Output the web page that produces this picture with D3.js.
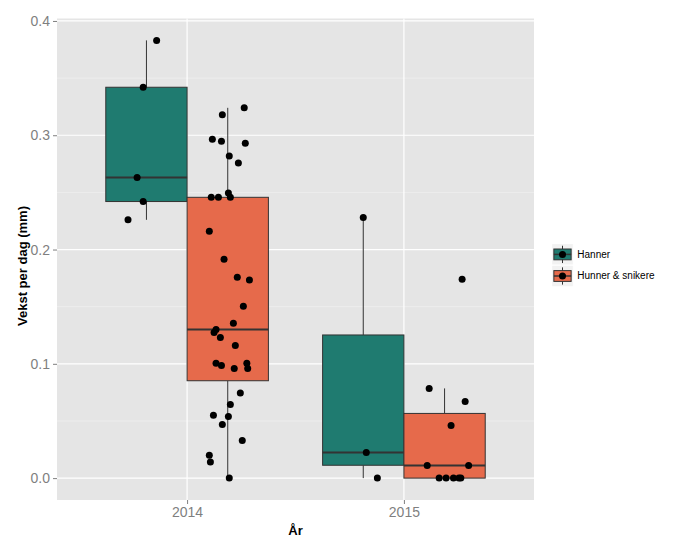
<!DOCTYPE html>
<html>
<head>
<meta charset="utf-8">
<script src="https://cdn.jsdelivr.net/npm/d3@7/dist/d3.min.js"></script>
<style>
  html, body { margin: 0; padding: 0; background: #ffffff; }
  svg { display: block; font-family: "Liberation Sans", Arial, sans-serif; }
</style>
</head>
<body>
<svg id="chart" width="692" height="548"></svg>
<script>
// ---------- data ----------
const years = ["2014", "2015"];
const groups = ["Hanner", "Hunner & snikere"];
const groupColors = ["#1F7B70", "#E66A4B"];
const yTicks = [0.0, 0.1, 0.2, 0.3, 0.4];
const yMinorTicks = [0.05, 0.15, 0.25, 0.35];

// values; jitter = horizontal offset in category units
const hanner2014 = [0.383, 0.342, 0.263, 0.242, 0.226];
const hanner2014Jitter = [0.047, -0.015, -0.043, -0.015, -0.085];

const hunner2014 = [0.324, 0.318, 0.2965, 0.2947, 0.293, 0.2818, 0.2757, 0.2494, 0.2457, 0.2457,
  0.2457, 0.216, 0.1914, 0.1757, 0.1733, 0.1503, 0.1354, 0.130, 0.1275, 0.1231,
  0.1161, 0.1004, 0.0986, 0.096, 0.1004, 0.096, 0.0744, 0.0645, 0.0549, 0.054,
  0.047, 0.033, 0.0201, 0.014, 0.0];
const hunner2014Jitter = [0.076, -0.025, -0.071, -0.029, 0.081, 0.007, 0.049, 0.003, -0.076, -0.043,
  0.012, -0.085, -0.017, 0.044, 0.100, 0.072, 0.026, -0.054, -0.063, -0.034,
  0.035, -0.054, -0.029, 0.030, 0.088, 0.092, 0.058, 0.012, -0.066, 0.003,
  -0.025, 0.067, -0.085, -0.080, 0.007];

const hanner2015 = [0.228, 0.0225, 0.0];
const hanner2015Jitter = [0.0, 0.014, 0.065];

const hunner2015 = [0.0785, 0.0671, 0.0461, 0.0111, 0.0111, 0.0, 0.0, 0.0, 0.0, 0.0, 0.174];
const hunner2015Jitter = [-0.071, 0.095, 0.030, -0.080, 0.111, -0.025, 0.007, 0.041, 0.066, 0.075, 0.081];

const yTitle = "Vekst per dag (mm)";
const xTitle = "År";

// ---------- build table ----------
const sets = [
  { year: 0, group: 0, values: hanner2014, jitter: hanner2014Jitter },
  { year: 0, group: 1, values: hunner2014, jitter: hunner2014Jitter },
  { year: 1, group: 0, values: hanner2015, jitter: hanner2015Jitter },
  { year: 1, group: 1, values: hunner2015, jitter: hunner2015Jitter }
];

sets.forEach(s => {
  const sorted = s.values.slice().sort(d3.ascending);
  s.q1 = d3.quantile(sorted, 0.25);
  s.med = d3.quantile(sorted, 0.5);
  s.q3 = d3.quantile(sorted, 0.75);
  const iqr = s.q3 - s.q1;
  s.lo = d3.min(sorted.filter(v => v >= s.q1 - 1.5 * iqr));
  s.hi = d3.max(sorted.filter(v => v <= s.q3 + 1.5 * iqr));
});

// ---------- layout ----------
const svg = d3.select("#chart");
const panel = { left: 57, right: 534, top: 18.5, bottom: 500 };
const boxWidth = 0.375;
const dodge = [-0.1875, 0.1875];

const x = d3.scaleLinear().domain([0.4, 2.6]).range([panel.left, panel.right]);
const allVals = sets.flatMap(s => s.values);
const yMin = d3.min(allVals), yMax = d3.max(allVals);
const pad = (yMax - yMin) * 0.05;
const y = d3.scaleLinear().domain([yMin - pad, yMax + pad]).range([panel.bottom, panel.top]);

// panel background
svg.append("rect")
  .attr("x", panel.left).attr("y", panel.top)
  .attr("width", panel.right - panel.left).attr("height", panel.bottom - panel.top)
  .attr("fill", "#E5E5E5");

// grid
const grid = svg.append("g");
grid.selectAll(".minor").data(yMinorTicks).join("line")
  .attr("x1", panel.left).attr("x2", panel.right)
  .attr("y1", d => y(d)).attr("y2", d => y(d))
  .attr("stroke", "#F2F2F2").attr("stroke-width", 0.6);
grid.selectAll(".majorY").data(yTicks).join("line")
  .attr("x1", panel.left).attr("x2", panel.right)
  .attr("y1", d => y(d)).attr("y2", d => y(d))
  .attr("stroke", "#FFFFFF").attr("stroke-width", 1.2);
grid.selectAll(".majorX").data(years).join("line")
  .attr("y1", panel.top).attr("y2", panel.bottom)
  .attr("x1", (d, i) => x(i + 1)).attr("x2", (d, i) => x(i + 1))
  .attr("stroke", "#FFFFFF").attr("stroke-width", 1.2);

// axes
const yAxis = d3.axisLeft(y).tickValues(yTicks).tickFormat(d3.format(".1f")).tickSize(4).tickPadding(3);
const yG = svg.append("g").attr("transform", `translate(${panel.left},0)`).call(yAxis);
const xScaleAxis = d3.scaleOrdinal().domain(years).range(years.map((d, i) => x(i + 1)));
const xAxis = d3.axisBottom(xScaleAxis).tickSize(4).tickPadding(3);
const xG = svg.append("g").attr("transform", `translate(0,${panel.bottom})`).call(xAxis);
[yG, xG].forEach(g => {
  g.select(".domain").remove();
  g.selectAll(".tick line").attr("stroke", "#7F7F7F").attr("stroke-width", 1);
  g.selectAll(".tick text").attr("fill", "#7F7F7F")
    .style("font-size", "14px").style("font-family", "'Liberation Sans', Arial, sans-serif");
});

// boxes
const boxG = svg.append("g");
sets.forEach(s => {
  const cx = s.year + 1 + dodge[s.group];
  const xl = x(cx - boxWidth / 2), xr = x(cx + boxWidth / 2), xc = x(cx);
  const g = boxG.append("g");
  g.append("line").attr("x1", xc).attr("x2", xc).attr("y1", y(s.q3)).attr("y2", y(s.hi))
    .attr("stroke", "#333333").attr("stroke-width", 1);
  g.append("line").attr("x1", xc).attr("x2", xc).attr("y1", y(s.q1)).attr("y2", y(s.lo))
    .attr("stroke", "#333333").attr("stroke-width", 1);
  g.append("rect").attr("x", xl).attr("y", y(s.q3))
    .attr("width", xr - xl).attr("height", y(s.q1) - y(s.q3))
    .attr("fill", groupColors[s.group]).attr("stroke", "#333333").attr("stroke-width", 1);
  g.append("line").attr("x1", xl).attr("x2", xr).attr("y1", y(s.med)).attr("y2", y(s.med))
    .attr("stroke", "#333333").attr("stroke-width", 2);
});

// jittered points
const ptG = svg.append("g");
sets.forEach(s => {
  const cx = s.year + 1 + dodge[s.group];
  ptG.selectAll(null).data(s.values).join("circle")
    .attr("cx", (d, i) => x(cx + s.jitter[i]))
    .attr("cy", d => y(d))
    .attr("r", 3.5)
    .attr("fill", "#000000");
});

// axis titles
svg.append("text")
  .attr("x", (panel.left + panel.right) / 2).attr("y", 535)
  .attr("text-anchor", "middle")
  .style("font-size", "13px").style("font-weight", "bold")
  .attr("fill", "#000").text(xTitle);
svg.append("text")
  .attr("transform", `translate(27,266) rotate(-90)`)
  .attr("text-anchor", "middle")
  .style("font-size", "13px").style("font-weight", "bold")
  .attr("fill", "#000").text(yTitle);

// legend
const keySize = 21.6;
const legend = svg.append("g").attr("transform", "translate(551.7,243.6)");
groups.forEach((gname, i) => {
  const k = legend.append("g").attr("transform", `translate(0,${i * keySize})`);
  k.append("rect").attr("width", keySize).attr("height", keySize)
    .attr("fill", "#F2F2F2").attr("stroke", "#FFFFFF").attr("stroke-width", 1);
  const c = keySize / 2;
  k.append("line").attr("x1", c).attr("x2", c).attr("y1", keySize * 0.1).attr("y2", keySize * 0.9)
    .attr("stroke", "#333333").attr("stroke-width", 1);
  k.append("rect").attr("x", keySize * 0.1).attr("y", keySize * 0.25)
    .attr("width", keySize * 0.8).attr("height", keySize * 0.5)
    .attr("fill", groupColors[i]).attr("stroke", "#333333").attr("stroke-width", 1);
  k.append("line").attr("x1", keySize * 0.1).attr("x2", keySize * 0.9).attr("y1", c).attr("y2", c)
    .attr("stroke", "#333333").attr("stroke-width", 1.5);
  k.append("circle").attr("cx", c).attr("cy", c).attr("r", 3.5).attr("fill", "#000");
  k.append("text").attr("x", keySize + 4).attr("y", c + 3.5)
    .style("font-size", "10px").attr("fill", "#000").text(gname);
});
</script>
</body>
</html>
